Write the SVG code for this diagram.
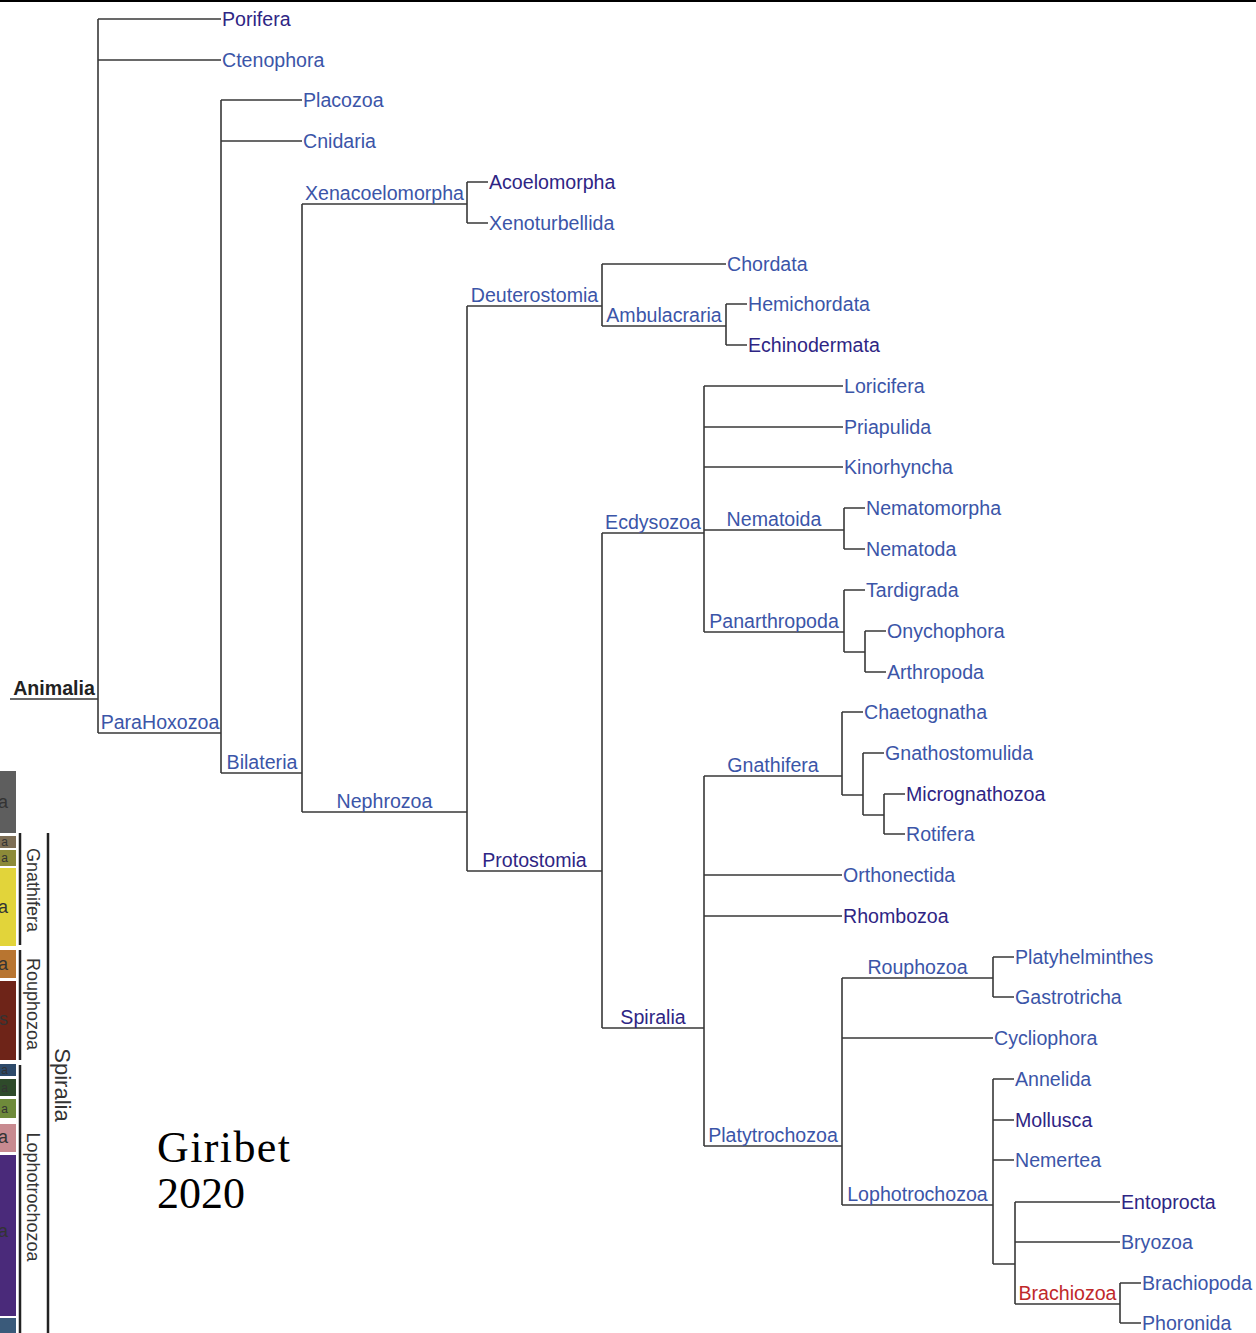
<svg xmlns="http://www.w3.org/2000/svg" width="1256" height="1333" viewBox="0 0 1256 1333">
<style>
text{font-family:"Liberation Sans",Arial,sans-serif;font-size:19.6px}
.b{fill:#3b55a8}
.v{fill:#2e2584}
.c{text-anchor:middle}
.r{fill:#c0282a}
.k{fill:#222}
.tree path{stroke:#383838;stroke-width:1.6;fill:none}
.side text{font-size:18px;fill:#333}
.side text.s{font-size:12px}
.bar{stroke:#222;stroke-width:2.5}
</style>
<rect x="0" y="0" width="1256" height="2" fill="#000"/>
<g id="connectors" class="tree">
<path d="M10,699H98M98,19V733M98,19H221M98,60H221M98,733H221"/>
<path d="M221,100V773M221,100H302M221,141H302M221,773H302"/>
<path d="M302,204V812M302,204H467M302,812H467"/>
<path d="M467,182V223M467,182H488M467,223H488"/>
<path d="M467,306V871M467,306H602M467,871H602"/>
<path d="M602,264V326M602,264H726M602,326H726"/>
<path d="M726,304V345M726,304H747M726,345H747"/>
<path d="M602,533V1028M602,533H704M602,1028H704"/>
<path d="M704,386V632M704,386H843M704,427H843M704,467H843M704,530H844M704,632H844"/>
<path d="M844,508V549M844,508H865M844,549H865"/>
<path d="M844,590V652M844,590H865M844,652H865M865,631V672M865,631H886M865,672H886"/>
<path d="M704,776V1146M704,776H842M704,875H842M704,916H842M704,1146H842"/>
<path d="M842,712V795M842,712H863M842,795H863M863,753V815M863,753H884M863,815H884M884,794V834M884,794H905M884,834H905"/>
<path d="M842,978V1205M842,978H993M842,1038H993M842,1205H993"/>
<path d="M993,957V997M993,957H1014M993,997H1014"/>
<path d="M993,1079V1264M993,1079H1014M993,1120H1014M993,1160H1014M993,1264H1015"/>
<path d="M1015,1202V1304M1015,1202H1120M1015,1242H1120M1015,1304H1120"/>
<path d="M1120,1283V1323M1120,1283H1141M1120,1323H1141"/>
</g>
<g id="n-animalia"><text x="54" y="695" class="c k" font-weight="bold">Animalia</text></g>
<g id="n-porifera"><text x="222" y="26" class="v">Porifera</text></g>
<g id="n-ctenophora"><text x="222" y="67" class="b">Ctenophora</text></g>
<g id="n-parahoxozoa"><text x="160" y="728.5" class="c b">ParaHoxozoa</text></g>
<g id="n-placozoa"><text x="303" y="107" class="b">Placozoa</text></g>
<g id="n-cnidaria"><text x="303" y="148" class="b">Cnidaria</text></g>
<g id="n-bilateria"><text x="262" y="768.5" class="c b">Bilateria</text></g>
<g id="n-xenacoelomorpha"><text x="384.5" y="199.5" class="c b">Xenacoelomorpha</text></g>
<g id="n-acoelomorpha"><text x="489" y="189" class="v">Acoelomorpha</text></g>
<g id="n-xenoturbellida"><text x="489" y="230" class="b">Xenoturbellida</text></g>
<g id="n-nephrozoa"><text x="384.5" y="807.5" class="c b">Nephrozoa</text></g>
<g id="n-deuterostomia"><text x="534.5" y="301.5" class="c b">Deuterostomia</text></g>
<g id="n-chordata"><text x="727" y="271" class="b">Chordata</text></g>
<g id="n-ambulacraria"><text x="664" y="321.5" class="c b">Ambulacraria</text></g>
<g id="n-hemichordata"><text x="748" y="311" class="b">Hemichordata</text></g>
<g id="n-echinodermata"><text x="748" y="352" class="v">Echinodermata</text></g>
<g id="n-protostomia"><text x="534.5" y="866.5" class="c v">Protostomia</text></g>
<g id="n-ecdysozoa"><text x="653" y="528.5" class="c b">Ecdysozoa</text></g>
<g id="n-loricifera"><text x="844" y="393" class="b">Loricifera</text></g>
<g id="n-priapulida"><text x="844" y="434" class="b">Priapulida</text></g>
<g id="n-kinorhyncha"><text x="844" y="474" class="b">Kinorhyncha</text></g>
<g id="n-nematoida"><text x="774" y="525.5" class="c b">Nematoida</text></g>
<g id="n-nematomorpha"><text x="866" y="515" class="b">Nematomorpha</text></g>
<g id="n-nematoda"><text x="866" y="556" class="b">Nematoda</text></g>
<g id="n-panarthropoda"><text x="774" y="627.5" class="c b">Panarthropoda</text></g>
<g id="n-tardigrada"><text x="866" y="597" class="b">Tardigrada</text></g>
<g id="n-onychophora"><text x="887" y="638" class="b">Onychophora</text></g>
<g id="n-arthropoda"><text x="887" y="679" class="b">Arthropoda</text></g>
<g id="n-spiralia"><text x="653" y="1023.5" class="c v">Spiralia</text></g>
<g id="n-gnathifera"><text x="773" y="771.5" class="c b">Gnathifera</text></g>
<g id="n-chaetognatha"><text x="864" y="719" class="b">Chaetognatha</text></g>
<g id="n-gnathostomulida"><text x="885" y="760" class="b">Gnathostomulida</text></g>
<g id="n-micrognathozoa"><text x="906" y="801" class="v">Micrognathozoa</text></g>
<g id="n-rotifera"><text x="906" y="841" class="b">Rotifera</text></g>
<g id="n-orthonectida"><text x="843" y="882" class="b">Orthonectida</text></g>
<g id="n-rhombozoa"><text x="843" y="923" class="v">Rhombozoa</text></g>
<g id="n-platytrochozoa"><text x="773" y="1141.5" class="c b">Platytrochozoa</text></g>
<g id="n-rouphozoa"><text x="917.5" y="973.5" class="c b">Rouphozoa</text></g>
<g id="n-platyhelminthes"><text x="1015" y="964" class="b">Platyhelminthes</text></g>
<g id="n-gastrotricha"><text x="1015" y="1004" class="b">Gastrotricha</text></g>
<g id="n-cycliophora"><text x="994" y="1045" class="b">Cycliophora</text></g>
<g id="n-lophotrochozoa"><text x="917.5" y="1200.5" class="c b">Lophotrochozoa</text></g>
<g id="n-annelida"><text x="1015" y="1086" class="b">Annelida</text></g>
<g id="n-mollusca"><text x="1015" y="1127" class="v">Mollusca</text></g>
<g id="n-nemertea"><text x="1015" y="1167" class="b">Nemertea</text></g>
<g id="n-entoprocta"><text x="1121" y="1209" class="v">Entoprocta</text></g>
<g id="n-bryozoa"><text x="1121" y="1249" class="b">Bryozoa</text></g>
<g id="n-brachiozoa"><text x="1067.5" y="1299.5" class="c r">Brachiozoa</text></g>
<g id="n-brachiopoda"><text x="1142" y="1290" class="b">Brachiopoda</text></g>
<g id="n-phoronida"><text x="1142" y="1330" class="b">Phoronida</text></g>
<g id="side" class="side">
<rect x="0" y="771" width="16" height="62" fill="#5e5e5e"/>
<rect x="0" y="836" width="16" height="12" fill="#7d6e55"/>
<rect x="0" y="850" width="16" height="16" fill="#8c8a38"/>
<rect x="0" y="868" width="16" height="78" fill="#e2d43a"/>
<rect x="0" y="950" width="16" height="28" fill="#b87530"/>
<rect x="0" y="981" width="16" height="79" fill="#6e2418"/>
<rect x="0" y="1064" width="16" height="12" fill="#2d4a6a"/>
<rect x="0" y="1079" width="16" height="17" fill="#2e4a2a"/>
<rect x="0" y="1099" width="16" height="19" fill="#6e8a3a"/>
<rect x="0" y="1124" width="16" height="28" fill="#c88a90"/>
<rect x="0" y="1155" width="16" height="161" fill="#4a2a7a"/>
<rect x="0" y="1318" width="16" height="15" fill="#3a5a7a"/>
<text x="8" y="808" text-anchor="end">a</text>
<text class="s" x="8" y="846" text-anchor="end">a</text>
<text class="s" x="8" y="862" text-anchor="end">a</text>
<text x="8" y="913" text-anchor="end">a</text>
<text x="8" y="970" text-anchor="end">a</text>
<text x="8" y="1025" text-anchor="end">s</text>
<text class="s" x="8" y="1074" text-anchor="end">a</text>
<text class="s" x="8" y="1092" text-anchor="end">a</text>
<text class="s" x="8" y="1113" text-anchor="end">a</text>
<text x="8" y="1143" text-anchor="end">a</text>
<text x="8" y="1237" text-anchor="end">a</text>
<path class="bar" d="M20,833V945M20,950V1060M20,1065V1333M48,833V1333"/>
<text transform="translate(27,890) rotate(90)" text-anchor="middle">Gnathifera</text>
<text transform="translate(27,1004) rotate(90)" text-anchor="middle">Rouphozoa</text>
<text transform="translate(27,1197) rotate(90)" text-anchor="middle">Lophotrochozoa</text>
<text transform="translate(55,1085) rotate(90)" text-anchor="middle" style="font-size:22px">Spiralia</text>
</g>
<g id="caption">
<text x="157" y="1162" style="font-family:'Liberation Serif','Times New Roman',serif;font-size:44px;fill:#000" textLength="133">Giribet</text>
<text x="157" y="1208" style="font-family:'Liberation Serif','Times New Roman',serif;font-size:44px;fill:#000">2020</text>
</g>
</svg>
